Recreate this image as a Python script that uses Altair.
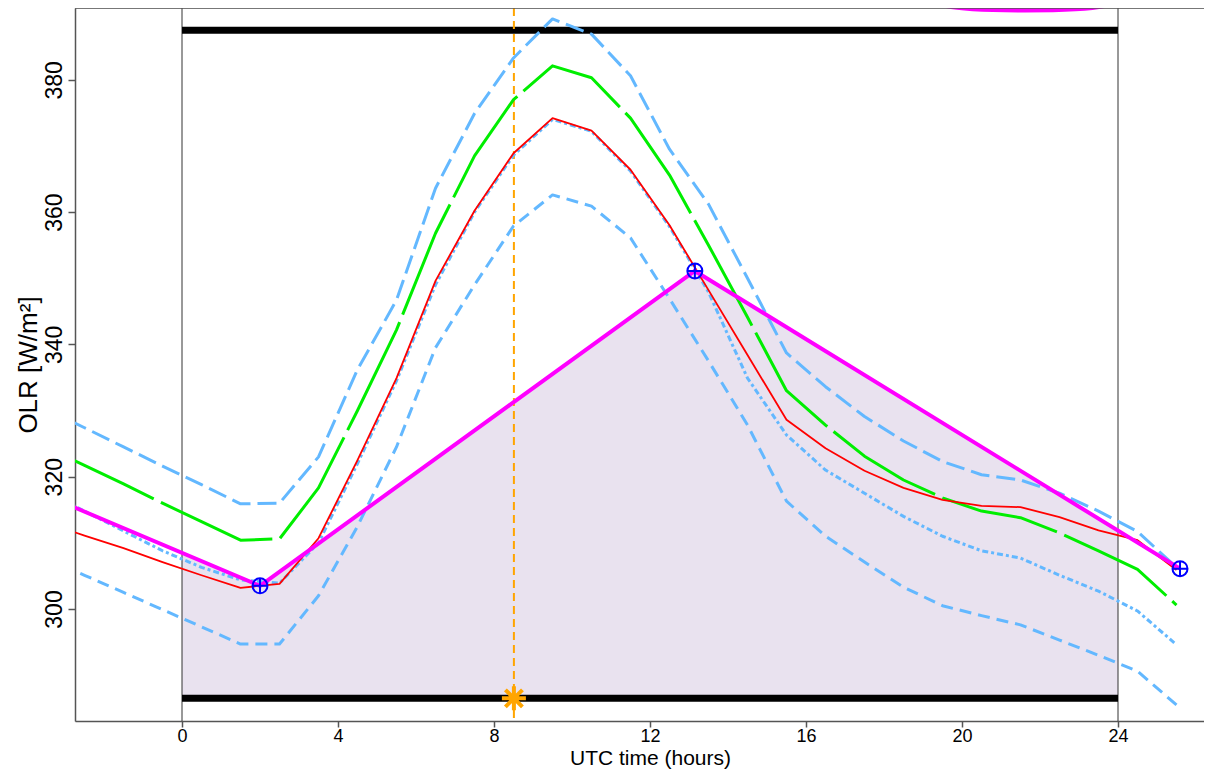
import altair as alt
import pandas as pd
import numpy as np

# ---------------- data ----------------
hours = [-3.5, -2.5, -1.5, -0.5, 0.5, 1.5, 2.5, 3.5, 4.5, 5.5, 6.5, 7.5, 8.5, 9.5, 10.5,
         11.5, 12.5, 13.5, 14.5, 15.5, 16.5, 17.5, 18.5, 19.5, 20.5, 21.5, 22.5, 23.5, 24.5, 25.5]

red = [313.1, 311.1, 309.2, 307.1, 305.1, 303.2, 303.8, 310.7, 322.5, 334.9, 349.6, 360.2, 368.9, 374.2, 372.3,
       366.4, 358.0, 348.2, 338.4, 328.6, 324.3, 320.9, 318.3, 316.5, 315.6, 315.4, 313.9, 311.9, 310.4, 305.9]

green = [324.5, 321.7, 318.9, 316.0, 313.2, 310.4, 310.6, 318.3, 330.0, 342.2, 356.8, 368.5, 377.0, 382.1, 380.3,
         374.2, 365.6, 355.0, 344.1, 333.0, 327.8, 323.1, 319.5, 316.8, 314.8, 313.8, 311.5, 308.8, 306.0, 300.6]

blue_upper = [330.3, 327.4, 324.5, 321.6, 318.8, 315.9, 316.0, 323.0, 336.2, 346.7, 363.6, 374.9, 383.3, 389.2, 386.9,
              380.6, 369.5, 361.2, 350.0, 338.7, 333.6, 329.1, 325.4, 322.3, 320.3, 319.5, 317.5, 314.8, 311.7, 306.3]

blue_lower = [307.7, 305.1, 302.5, 299.9, 297.3, 294.7, 294.7, 302.0, 312.5, 324.5, 339.5, 349.0, 357.9, 362.6, 360.9,
              356.1, 346.9, 337.5, 327.8, 316.3, 311.0, 307.1, 303.3, 300.5, 299.0, 297.6, 295.3, 293.0, 290.6, 285.5]

blue_mid = [317.8, 314.8, 311.8, 308.8, 306.3, 304.4, 303.9, 310.0, 322.0, 334.5, 349.0, 360.0, 368.6, 374.0, 372.2,
            366.2, 357.8, 347.9, 334.9, 326.3, 321.0, 317.5, 314.0, 311.0, 308.8, 307.7, 305.1, 302.7, 299.7, 294.6]

mag_x = [-3.5, 2.0, 13.15, 25.59]
mag_y = [317.2, 303.5, 351.1, 306.1]
marker_x = [2.0, 13.15, 25.59]
marker_y = [303.5, 351.1, 306.1]

period = [0, 24]
band_levels = [387.5, 286.5]
event_hour = 8.51
ellipse_x = [21.62]
ellipse_y = [391.55]

x_ticks = [0, 4, 8, 12, 16, 20, 24]
y_ticks = [300, 320, 340, 360, 380]

# ---------------- layout ----------------
W, H = 1129, 713
FONT = "Liberation Sans"
AXC = "#555555"

xscale = alt.Scale(domain=[-2.744, 26.205], nice=False, zero=False)
yscale = alt.Scale(domain=[283.07, 390.85], nice=False, zero=False)

xaxis = alt.Axis(values=x_ticks, title="UTC time (hours)", grid=False,
                 domainColor=AXC, domainWidth=1.5, tickColor=AXC, tickWidth=1.5, tickSize=6,
                 labelFontSize=18, labelPadding=0, labelColor="black", labelFont=FONT,
                 titleFontSize=21, titleFontWeight="normal", titleColor="black", titleFont=FONT,
                 titleX=575, titleY=37, titleBaseline="middle", titleAlign="center")
yaxis = alt.Axis(values=y_ticks, title="OLR [W/m²]", grid=False,
                 domainColor=AXC, domainWidth=1.5, tickColor=AXC, tickWidth=1.5, tickSize=7,
                 labelFontSize=23, labelPadding=7, labelAngle=270, labelAlign="center",
                 labelBaseline="alphabetic", labelColor="black", labelFont=FONT,
                 titleFontSize=26, titleFontWeight="normal", titleColor="black", titleFont=FONT,
                 titleAngle=270, titleX=-47, titleY=H / 2, titleBaseline="middle", titleAlign="center")

X = alt.X("h:Q", scale=xscale, axis=xaxis)
Y = alt.Y("v:Q", scale=yscale, axis=yaxis)

# shaded area under magenta curve, between 0 and 24 h
area_h = [period[0], mag_x[1], mag_x[2], period[1]]
area_v = list(np.interp(area_h, mag_x, mag_y))
area_df = pd.DataFrame({"h": area_h, "v": area_v, "base": [band_levels[1]] * len(area_h)})
area = alt.Chart(area_df).mark_area(color="#E9E2EF", opacity=1).encode(x=X, y=Y, y2="base:Q")

vlines = alt.Chart(pd.DataFrame({"h": period})).mark_rule(color="#333333", strokeWidth=1).encode(x=X)

bands_df = pd.DataFrame({"h": [period[0]] * 2, "h2": [period[1]] * 2, "v": band_levels})
bands = alt.Chart(bands_df).mark_rule(color="black", strokeWidth=7).encode(x=X, x2="h2:Q", y=Y)

event = alt.Chart(pd.DataFrame({"h": [event_hour]})).mark_rule(
    color="#FFA500", strokeWidth=2, strokeDash=[8, 5]).encode(x=X)


def series(vals, color, width, dash=None):
    kw = dict(color=color, strokeWidth=width, clip=True, strokeJoin="round")
    if dash is not None:
        kw["strokeDash"] = dash
    return alt.Chart(pd.DataFrame({"h": hours, "v": vals})).mark_line(**kw).encode(x=X, y=Y)


BLUE = "#63B8FF"
l_lower = series(blue_lower, BLUE, 3, [12, 7])
l_upper = series(blue_upper, BLUE, 3, [19, 7])
l_mid = series(blue_mid, BLUE, 3, [3, 3, 6, 3])
l_green = series(green, "#00EE00", 3, [120, 8])
l_red = series(red, "#FF0000", 1.8)

magenta = alt.Chart(pd.DataFrame({"h": mag_x, "v": mag_y})).mark_line(
    color="#FF00FF", strokeWidth=4, clip=True, strokeJoin="round").encode(x=X, y=Y)

circ_plus = "M 1 0 A 1 1 0 1 1 -1 0 A 1 1 0 1 1 1 0 M -1 0 L 1 0 M 0 -1 L 0 1"
markers = alt.Chart(pd.DataFrame({"h": marker_x, "v": marker_y})).mark_point(
    shape=circ_plus, size=225, color="#0000FF", strokeWidth=2, filled=False, opacity=1).encode(x=X, y=Y)

asterisk = "M -1 0 L 1 0 M 0 -1 L 0 1 M -0.71 -0.71 L 0.71 0.71 M -0.71 0.71 L 0.71 -0.71"
star = alt.Chart(pd.DataFrame({"h": [event_hour], "v": [band_levels[1]]})).mark_point(
    shape=asterisk, size=576, color="#FFA500", strokeWidth=4, filled=False, opacity=1).encode(x=X, y=Y)

ellipse_path = "M -1 0 A 1 0.08 0 1 0 1 0 A 1 0.08 0 1 0 -1 0 Z"
ellipse = alt.Chart(pd.DataFrame({"h": ellipse_x, "v": ellipse_y})).mark_point(
    shape=ellipse_path, size=28900, color="#FF00FF", strokeWidth=4.5, filled=False, opacity=1).encode(x=X, y=Y)

top_frame = alt.Chart(pd.DataFrame({"h": [0]})).mark_rule(color=AXC, strokeWidth=1.5).encode(
    x=alt.value(0), x2=alt.value(W), y=alt.value(0))

chart = alt.layer(
    area, vlines, bands, event, l_lower, l_upper, l_mid, l_green, l_red,
    magenta, markers, star, ellipse, top_frame
).properties(
    width=W, height=H,
    autosize=alt.AutoSizeParams(type="none"),
    padding={"left": 67, "top": 0, "right": 0, "bottom": 48},
).configure_view(stroke="transparent").configure(font=FONT, background="white")

chart.save("out.html", embed_options={"renderer": "svg", "actions": False})
